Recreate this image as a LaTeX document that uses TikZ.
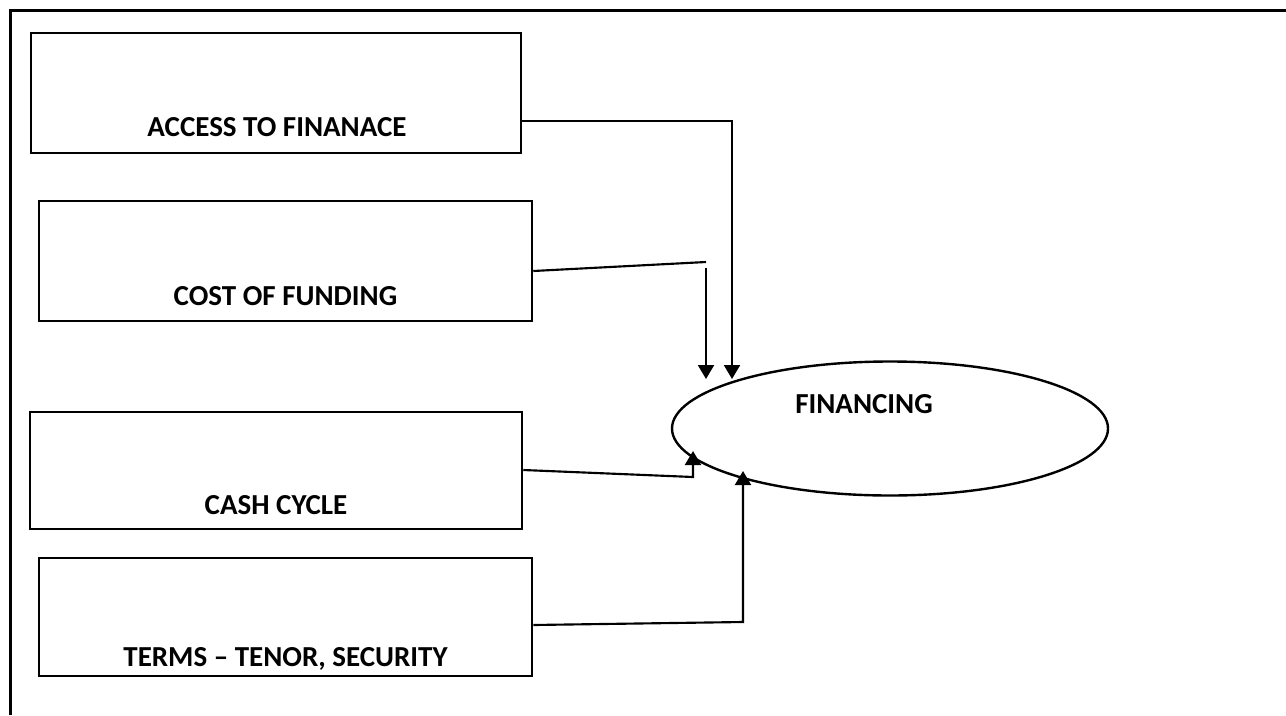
\documentclass[tikz,border=0pt]{standalone}
\usepackage{fontspec}
\setmainfont{Carlito}
\usetikzlibrary{arrows.meta,shapes.geometric}
\begin{document}
\begin{tikzpicture}[x=0.75pt,y=-0.75pt,
  box/.style={draw=black,line width=1.9pt,rectangle,inner sep=0pt},
  lbl/.style={font=\fontsize{21.75pt}{26pt}\selectfont\bfseries,inner sep=0pt,anchor=base},
  conn/.style={draw=black,line width=1.6pt},
  tip/.style={-{Triangle[length=14*0.75pt,width=16*0.75pt]}}
]
\useasboundingbox (0,0) rectangle (1286,715);
% frame (top and left edges)
\draw[line width=2.4pt] (10.5,715) -- (10.5,10.5) -- (1286,10.5);
% boxes
\node[box,minimum width={490*0.75pt},minimum height={120*0.75pt}] (acc) at (276,93) {};
\node[box,minimum width={493*0.75pt},minimum height={120*0.75pt}] (cost) at (285.5,261) {};
\node[box,minimum width={492*0.75pt},minimum height={117*0.75pt}] (cash) at (276,470.5) {};
\node[box,minimum width={493*0.75pt},minimum height={118*0.75pt}] (terms) at (285.5,617) {};
\node[lbl] (acct) at (277,136) {ACCESS TO FINANACE};
\node[lbl] (costt) at (285.5,305) {COST OF FUNDING};
\node[lbl] (casht) at (276,514) {CASH CYCLE};
\node[lbl] (termst) at (285.5,666) {TERMS – TENOR, SECURITY};
% ellipse
\node[ellipse,draw=black,line width=1.8pt,inner sep=0pt,minimum width={436*0.75pt},minimum height={134*0.75pt}] (fin) at (890,428.5) {};
\node[lbl] (fint) at (864,413) {FINANCING};
% connector points
\coordinate (a1) at (acc.east |- 0,121);
\coordinate (b1) at (732,121);
\coordinate (e1) at (732,379);
\coordinate (a2) at (cost.east |- 0,271);
\coordinate (b2) at (706,262);
\coordinate (c2) at (706,268);
\coordinate (e2) at (706,379);
\coordinate (a3) at (cash.east |- 0,470);
\coordinate (b3) at (693,477);
\coordinate (e3) at (693,451);
\coordinate (a4) at (terms.east |- 0,625);
\coordinate (b4) at (743,622);
\coordinate (e4) at (743,471);
% connectors
\draw[conn,tip] (a1) -- (b1) -- (e1);
\draw[conn] (a2) -- (b2);
\draw[conn,tip] (c2) -- (e2);
\draw[conn,tip] (a3) -- (b3) -- (e3);
\draw[conn,tip] (a4) -- (b4) -- (e4);
\end{tikzpicture}
\end{document}
